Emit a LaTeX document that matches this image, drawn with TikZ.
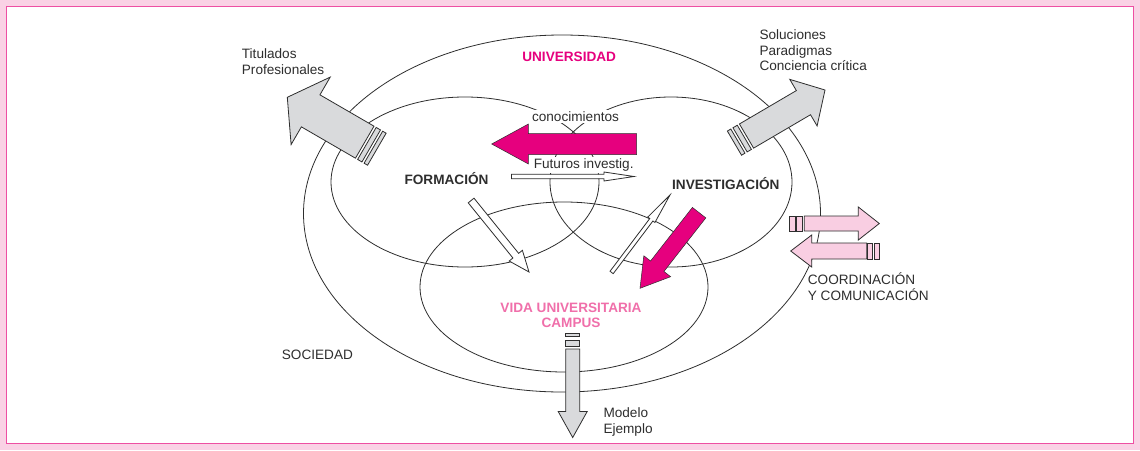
\documentclass[tikz,border=0pt]{standalone}
\usepackage{fontspec}
\setmainfont{Liberation Sans}
\definecolor{bgpink}{HTML}{FAD2E5}
\definecolor{borderpink}{HTML}{EE4FA3}
\definecolor{mag}{HTML}{E6007E}
\definecolor{lightmag}{HTML}{F06FAA}
\definecolor{arrgray}{HTML}{D9DADC}
\definecolor{arrpink}{HTML}{F9CEE2}
\definecolor{ink}{HTML}{2E2E2E}
% #1 style, #2 tip x, #3 tip y, #4 angle, #5 length, #6 head length, #7 half shaft, #8 half head
\newcommand{\fatarrow}[8]{%
  \begin{scope}[shift={(#2,#3)}, rotate=#4]
    \draw[#1] (0,0) -- (-#6,#8) -- (-#6,#7) -- (-#5,#7) -- (-#5,-#7) -- (-#6,-#7) -- (-#6,-#8) -- cycle;
  \end{scope}}
% #1 style, #2 tip x, #3 tip y, #4 angle, #5 half width, #6-#9 bar limits measured from tip
\newcommand{\tailbars}[9]{%
  \begin{scope}[shift={(#2,#3)}, rotate=#4]
    \draw[#1] (-#6,#5) rectangle (-#7,-#5);
    \draw[#1] (-#8,#5) rectangle (-#9,-#5);
  \end{scope}}
\begin{document}
\begin{tikzpicture}[x=1pt,y=-1pt,
  ell/.style={draw=ink, line width=0.8pt},
  txt/.style={text=ink, font=\fontsize{13.6}{15.7}\selectfont, inner sep=0pt},
  boldtxt/.style={text=ink, font=\fontsize{13.6}{15.7}\selectfont\bfseries, inner sep=0pt},
  grayarr/.style={draw=ink, line width=0.8pt, fill=arrgray},
  pinkarr/.style={draw=ink, line width=0.8pt, fill=arrpink},
  magarr/.style={draw=ink, line width=0.5pt, fill=mag},
  hollowarr/.style={draw=ink, line width=0.8pt, fill=white}]
\useasboundingbox (0,0) rectangle (1140,450);
\fill[bgpink] (0,0) rectangle (1140,450);
\draw[borderpink, line width=1.3pt, fill=white] (6.5,6.5) rectangle (1133.5,443.5);

% ellipses
\draw[ell] (562,213.5) ellipse [x radius=258.5pt, y radius=178.5pt];
\draw[ell] (465,182) ellipse [x radius=134pt, y radius=85pt];
\draw[ell] (671,182) ellipse [x radius=121pt, y radius=85pt];
\draw[ell] (564,287) ellipse [x radius=144pt, y radius=85pt];

% labels (multi-line nodes are anchored at the baseline of their last line)
\node[boldtxt, text=mag, anchor=base] (univ) at (569.2,61.7) {UNIVERSIDAD};
\node[boldtxt, anchor=base] (form) at (446.5,184) {FORMACIÓN};
\node[boldtxt, anchor=base] (inv) at (725.8,189) {INVESTIGACIÓN};
\node[boldtxt, text=lightmag, anchor=base, align=center] (campus) at (571,327.7) {VIDA UNIVERSITARIA\\CAMPUS};
\node[txt, anchor=base west] (soc) at (281.7,359) {SOCIEDAD};
\node[txt, anchor=base, fill=white, inner sep=1.5pt] (cono) at (575.5,121.7) {conocimientos};
\node[txt, anchor=base, fill=white, inner sep=1.5pt] (fut) at (583.7,168.3) {Futuros investig.};
\node[txt, anchor=base west, align=left] (tit) at (241.7,74) {Titulados\\Profesionales};
\node[txt, anchor=base west, align=left] (sol) at (759.3,70.7) {Soluciones\\Paradigmas\\Conciencia crítica};
\node[txt, anchor=base west, align=left] (coord) at (807.7,300.5) {COORDINACIÓN\\Y COMUNICACIÓN};
\node[txt, anchor=base west, align=left] (mod) at (603.3,433.5) {Modelo\\Ejemplo};

% gray arrows with tail bars
\fatarrow{grayarr}{287.3}{97.3}{149.9}{89.5}{27}{18.5}{39}
\tailbars{grayarr}{287.3}{97.3}{149.9}{18.5}{92}{97}{99.5}{103.5}
\fatarrow{grayarr}{825}{90}{30.4}{91}{25}{14}{27}
\tailbars{grayarr}{825}{90}{30.4}{14}{93.5}{98.5}{101}{105}
\fatarrow{grayarr}{572.7}{437.5}{-90}{88.5}{26}{7}{14.5}
\tailbars{grayarr}{572.7}{437.5}{-90}{7}{91.5}{97.5}{100.8}{104.2}

% magenta arrows
\fatarrow{magarr}{491.7}{144}{180}{145}{36.7}{10.5}{20}
\fatarrow{magarr}{640}{288.3}{232}{96}{28}{8.5}{17}

% hollow arrows
\fatarrow{hollowarr}{634}{176.5}{0}{122.5}{30}{2.2}{4.5}
\fatarrow{hollowarr}{529}{272}{-51}{92}{21}{3.7}{8.5}
\fatarrow{hollowarr}{670}{195}{53}{97}{31}{2}{4.5}

% pink arrows
\fatarrow{pinkarr}{879.3}{223.5}{0}{75}{21}{7.5}{16.5}
\tailbars{pinkarr}{879.3}{223.5}{0}{7.5}{77}{82.5}{84}{89.5}
\fatarrow{pinkarr}{790.7}{251}{180}{76}{21}{8}{16}
\tailbars{pinkarr}{790.7}{251}{180}{8}{77}{82}{83.5}{89}
\end{tikzpicture}
\end{document}
